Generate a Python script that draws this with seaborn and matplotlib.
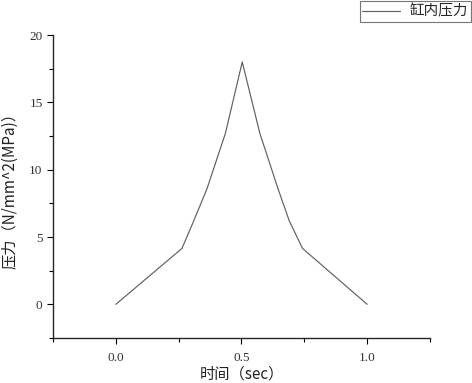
import numpy as np
import pandas as pd
import seaborn as sns
import matplotlib
matplotlib.use('Agg')
import matplotlib.pyplot as plt
from matplotlib.ticker import MultipleLocator

# 缸内压力曲线
time_sec = [0.0, 0.263, 0.31, 0.363, 0.436, 0.503, 0.573, 0.645, 0.69, 0.743, 1.0]
pressure = [0.0, 4.15, 6.2, 8.6, 12.7, 18.0, 12.7, 8.6, 6.2, 4.15, 0.0]
series_name = '缸内压力'

df = pd.DataFrame({'time': time_sec, 'p': pressure, 'name': series_name})

sns.set_style('ticks')
plt.rcParams['font.family'] = ['Noto Sans CJK SC', 'DejaVu Sans']
plt.rcParams['axes.unicode_minus'] = False

fig = plt.figure(figsize=(4.72, 3.83), dpi=100)
ax = fig.add_axes([0.1123, 0.1175, 0.7987, 0.7911])

sns.lineplot(data=df, x='time', y='p', hue='name', palette=['#606060'],
             estimator=None, sort=False, lw=0.85, ax=ax)

ax.set_xlim(-0.25, 1.25)
ax.set_ylim(-2.5, 20)
ax.xaxis.set_minor_locator(MultipleLocator(0.25))
ax.yaxis.set_minor_locator(MultipleLocator(2.5))
ax.set_xticks([0.0, 0.5, 1.0])
ax.set_xticklabels(['0.0', '0.5', '1.0'], family='Liberation Serif', fontsize=9.5,
                   color='#333333')
ax.set_yticks([0, 5, 10, 15, 20])
ax.set_yticklabels(['0', '5', '10', '15', '20'], family='Liberation Serif', fontsize=9.5,
                   color='#333333')
ax.tick_params(which='major', direction='out', length=4, width=0.8, color='black')
ax.tick_params(which='minor', direction='out', length=3, width=0.8, color='black')
ax.tick_params(axis='x', pad=6)

sns.despine(ax=ax)
ax.spines['left'].set_linewidth(1.0)
ax.spines['bottom'].set_linewidth(1.0)

ax.set_xlabel('时间（sec）', fontsize=11, labelpad=1, color='#222222')
ax.set_ylabel('压力（N/mm^2(MPa)）', fontsize=11, labelpad=8, color='#222222',
              family=['Noto Sans CJK SC', 'DejaVu Sans'])

leg = ax.legend(loc='upper right', bbox_to_anchor=(1.0, 1.0),
                bbox_transform=fig.transFigure, frameon=True, fancybox=False,
                fontsize=10.5, handlelength=2.6, borderpad=0.2, borderaxespad=0.1,
                handletextpad=0.6)
leg.get_frame().set_edgecolor('#555555')
leg.get_frame().set_linewidth(0.8)

fig.savefig('out.png', dpi=100)
